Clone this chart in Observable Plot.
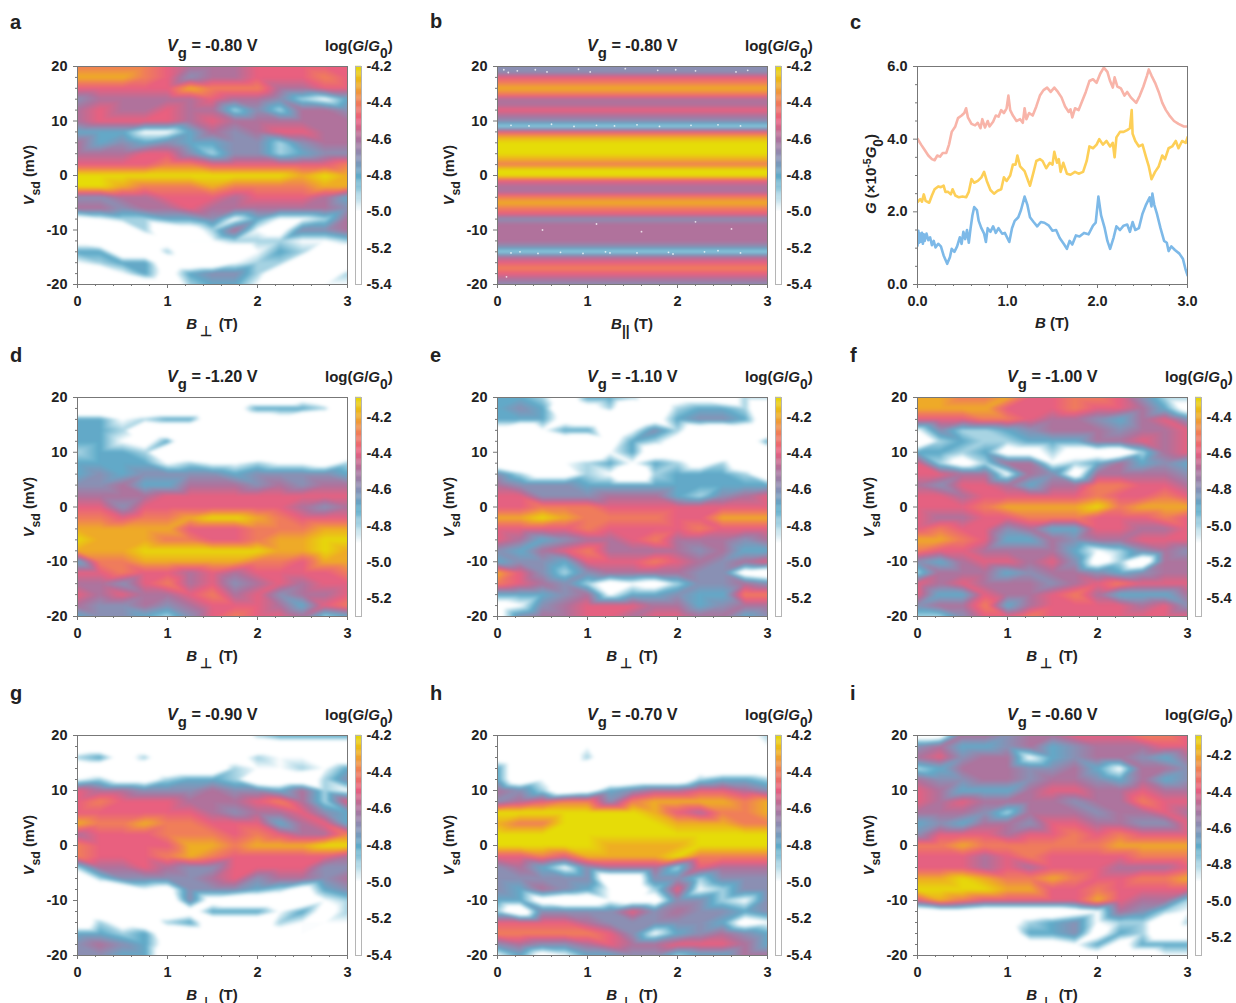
<!DOCTYPE html>
<html><head><meta charset="utf-8">
<script src="https://cdn.jsdelivr.net/npm/d3@7"></script>
<script src="https://cdn.jsdelivr.net/npm/@observablehq/plot@0.6"></script>
<style>
html,body{margin:0;padding:0;background:#fff;}
#fig{position:relative;width:1236px;height:1003px;overflow:hidden;font-family:"Liberation Sans",Arial,sans-serif;color:#222;}
#fig>svg{position:absolute;overflow:visible;background:transparent;}
.t{position:absolute;font-weight:bold;line-height:1;white-space:nowrap;}
.t sub{font-size:.92em;line-height:0;position:relative;top:.12em;vertical-align:baseline;}
.t sup{font-size:.7em;line-height:0;position:relative;top:-.45em;vertical-align:baseline;}
.t sub.d{top:.5em;}
</style></head><body><div id="fig"></div>
<script>
// Grid of the colour maps: B (T) along columns, Vsd (mV) along rows. Cell values are log(G/G0) x 10.
const bCols=[0,.25,.5,.75,1,1.25,1.5,1.75,2,2.25,2.5,2.75,3];
const vRows=[20,18,16,14,12,10,8,6,4,2,0,-2,-4,-6,-8,-10,-12,-14,-16,-18,-20];
const vFine=[20,19,18,17,16,15,14,13,12,11,10,9,8,7,6,5,4,3,2,1,0,-1,-2,-3,-4,-5,-6,-7,-8,-9,-10,-11,-12,-13,-14,-15,-16,-17,-18,-19,-20];

const mapA=[
[-44,-44,-44,-44,-45,-46,-46,-46,-45,-45,-45,-45,-45],
[-43,-43,-43,-44,-45,-47,-46,-46,-45,-45,-45,-44,-45],
[-45,-45,-45,-45,-45,-43,-44,-44,-44,-46,-46,-45,-45],
[-47,-46,-46,-46,-46,-46,-45,-46,-46,-47,-49,-50,-48],
[-46,-45,-46,-46,-45,-46,-46,-49,-47,-49,-46,-46,-47],
[-46,-45,-45,-45,-45,-46,-45,-46,-46,-46,-46,-46,-46],
[-48,-48,-48,-50,-50,-48,-46,-47,-46,-45,-45,-46,-46],
[-46,-48,-47,-48,-47,-48,-48,-47,-47,-49,-47,-46,-46],
[-46,-46,-46,-45,-45,-47,-49,-47,-47,-49,-48,-47,-47],
[-45,-45,-45,-45,-44,-44,-45,-45,-45,-45,-45,-45,-44],
[-42,-42,-42,-42,-42,-42,-42,-42,-42,-42,-43,-42,-43],
[-42,-42,-43,-44,-44,-44,-43,-44,-44,-44,-44,-43,-43],
[-47,-47,-46,-46,-45,-45,-45,-46,-45,-45,-45,-46,-48],
[-46,-46,-47,-46,-46,-45,-46,-46,-46,-46,-46,-46,-47],
[-51,-50,-49,-49,-48,-48,-47,-50,-48,-50,-50,-49,-46],
[-52,-52,-52,-49,-52,-51,-49,-46,-50,-51,-47,-47,-46],
[-51,-52,-52,-52,-51,-50,-50,-49,-49,-49,-50,-50,-49],
[-48,-48,-52,-52,-49,-52,-52,-52,-50,-48,-49,-52,-52],
[-50,-49,-48,-48,-52,-52,-52,-50,-49,-49,-52,-52,-52],
[-52,-52,-50,-48,-51,-48,-47,-47,-49,-52,-51,-52,-49],
[-52,-52,-52,-52,-52,-49,-48,-48,-50,-52,-52,-50,-50]];

const bandB=[-47,-47,-45,-44,-43,-44,-46,-46,-45,-46,-47,-49,-45,-43,-42,-42,-42,-43,-44,-42,-42,-45,-46,-46,-44,-43,-44,-45,-47,-46,-46,-46,-46,-47,-49,-46,-45,-44,-45,-46,-47];
const specksB=[[.07,19.4],[.12,18.9],[.22,19.2],[.42,19.4],[.55,19],[.9,19.5],[1.03,19],[1.42,19.6],[1.78,19.3],[1.98,19.4],[2.2,19.2],[2.65,19],[2.78,19.3],[.15,9.2],[.35,9.1],[.6,9.4],[.85,9],[1.1,9.2],[1.3,9.1],[1.55,9.3],[1.8,9],[2.15,9.2],[2.45,9.3],[2.7,9.1],[.15,-14.2],[.25,-14],[.45,-14.3],[.7,-14.1],[.95,-14.3],[1.2,-14],[1.25,-14.2],[1.55,-14.2],[1.9,-14.1],[1.95,-14.4],[2.3,-14],[2.45,-13.8],[2.7,-14.2],[.1,-18.6],[1.6,-10.3],[2.6,-9.8],[.5,-10],[1.1,-8.9],[2.2,-8.5]];

const mapD=[
[-52,-52,-52,-52,-52,-52,-52,-52,-52,-52,-50,-52,-52],
[-52,-52,-52,-52,-52,-52,-52,-50,-47,-47,-47,-48,-52],
[-47,-47,-49,-48,-47,-47,-51,-52,-51,-50,-52,-52,-52],
[-47,-47,-48,-52,-52,-52,-52,-52,-52,-52,-52,-52,-52],
[-47,-47,-49,-50,-47,-52,-52,-52,-52,-52,-52,-52,-51],
[-48,-47,-47,-48,-52,-52,-52,-52,-52,-52,-52,-52,-51],
[-47,-47,-47,-47,-49,-48,-49,-49,-48,-49,-49,-50,-48],
[-47,-46,-47,-46,-46,-46,-46,-47,-46,-46,-46,-46,-47],
[-46,-46,-45,-47,-47,-45,-45,-45,-46,-45,-46,-45,-45],
[-45,-45,-45,-45,-44,-44,-44,-44,-44,-44,-44,-44,-44],
[-44,-44,-46,-44,-44,-44,-44,-44,-44,-44,-45,-46,-45],
[-43,-43,-44,-43,-43,-42,-41,-41,-42,-43,-44,-44,-44],
[-42,-42,-42,-42,-42,-44,-44,-44,-43,-43,-43,-42,-42],
[-41,-42,-42,-42,-43,-43,-44,-44,-43,-42,-42,-41,-41],
[-42,-42,-42,-41,-41,-41,-41,-41,-41,-42,-42,-41,-42],
[-47,-43,-43,-42,-42,-42,-42,-42,-43,-43,-44,-42,-42],
[-44,-44,-43,-44,-44,-45,-44,-45,-44,-44,-44,-44,-43],
[-45,-45,-46,-44,-43,-45,-44,-46,-45,-44,-45,-44,-44],
[-44,-45,-44,-45,-45,-44,-43,-45,-44,-46,-45,-45,-44],
[-45,-46,-46,-45,-46,-45,-44,-44,-44,-45,-47,-44,-43],
[-47,-46,-46,-47,-48,-46,-44,-43,-44,-44,-45,-48,-47]];

const mapE=[
[-47,-47,-48,-51,-47,-47,-48,-51,-50,-50,-51,-48,-48],
[-47,-46,-47,-52,-50,-48,-52,-51,-48,-47,-47,-48,-52],
[-47,-47,-47,-50,-51,-52,-52,-50,-47,-46,-46,-47,-51],
[-50,-52,-49,-47,-47,-51,-49,-46,-48,-51,-52,-51,-52],
[-52,-52,-52,-51,-52,-50,-47,-48,-50,-52,-52,-51,-47],
[-52,-52,-52,-52,-52,-49,-47,-51,-51,-52,-52,-52,-51],
[-51,-52,-51,-49,-48,-47,-49,-47,-48,-50,-48,-51,-52],
[-46,-48,-50,-50,-48,-49,-52,-48,-47,-47,-47,-48,-51],
[-45,-46,-46,-46,-47,-47,-47,-47,-47,-47,-47,-47,-47],
[-44,-44,-46,-46,-46,-45,-45,-45,-47,-48,-46,-45,-44],
[-44,-44,-43,-43,-43,-44,-44,-44,-44,-44,-44,-44,-44],
[-42,-42,-41,-42,-43,-43,-43,-43,-44,-44,-42,-42,-42],
[-44,-44,-44,-44,-43,-44,-44,-44,-44,-43,-44,-44,-44],
[-44,-45,-47,-46,-45,-45,-44,-43,-45,-45,-45,-46,-45],
[-46,-47,-45,-44,-43,-45,-45,-45,-45,-46,-45,-47,-47],
[-47,-46,-46,-47,-44,-44,-44,-43,-44,-45,-46,-45,-44],
[-42,-44,-46,-48,-46,-45,-45,-45,-45,-46,-46,-50,-51],
[-43,-44,-45,-46,-48,-50,-49,-50,-48,-46,-46,-45,-46],
[-47,-47,-47,-46,-45,-49,-47,-47,-46,-47,-47,-43,-43],
[-50,-49,-46,-45,-44,-44,-44,-45,-45,-47,-46,-45,-45],
[-50,-46,-45,-45,-44,-44,-45,-44,-44,-45,-45,-47,-46]];

const mapF=[
[-44,-44,-45,-45,-44,-46,-46,-45,-45,-46,-48,-50,-50],
[-44,-44,-44,-44,-46,-46,-46,-45,-46,-46,-47,-49,-52],
[-46,-46,-46,-45,-45,-46,-47,-47,-48,-49,-47,-46,-48],
[-51,-48,-50,-50,-49,-48,-47,-47,-47,-48,-47,-47,-46],
[-53,-50,-49,-50,-50,-49,-49,-49,-47,-47,-46,-47,-46],
[-49,-49,-50,-49,-52,-52,-50,-52,-52,-53,-50,-47,-46],
[-46,-50,-52,-50,-47,-47,-51,-50,-49,-47,-49,-48,-49],
[-46,-46,-47,-47,-51,-47,-48,-52,-47,-47,-47,-47,-48],
[-47,-48,-46,-46,-47,-49,-47,-47,-45,-45,-46,-46,-47],
[-46,-46,-47,-46,-46,-46,-46,-46,-45,-46,-46,-45,-46],
[-46,-46,-46,-45,-44,-44,-44,-44,-43,-45,-44,-44,-44],
[-46,-47,-47,-46,-46,-45,-45,-45,-46,-46,-46,-45,-46],
[-46,-45,-46,-46,-48,-47,-49,-49,-46,-46,-47,-47,-46],
[-44,-44,-45,-46,-49,-49,-47,-48,-47,-47,-46,-46,-46],
[-45,-46,-46,-47,-47,-47,-47,-49,-51,-50,-48,-47,-48],
[-48,-49,-47,-46,-46,-47,-46,-48,-52,-50,-53,-47,-47],
[-50,-47,-47,-47,-49,-48,-47,-47,-48,-49,-48,-47,-47],
[-46,-47,-46,-47,-47,-47,-48,-47,-46,-45,-46,-46,-46],
[-46,-49,-49,-46,-47,-47,-46,-45,-47,-49,-49,-49,-47],
[-48,-47,-47,-45,-49,-47,-46,-46,-46,-46,-47,-46,-48],
[-50,-50,-48,-46,-46,-45,-46,-46,-46,-46,-46,-46,-46]];

const mapG=[
[-52,-52,-52,-52,-52,-52,-52,-52,-49,-48,-48,-48,-48],
[-52,-52,-52,-52,-52,-52,-52,-52,-52,-52,-52,-52,-52],
[-49,-48,-51,-49,-52,-52,-52,-51,-49,-50,-50,-52,-52],
[-52,-52,-52,-52,-52,-52,-52,-49,-50,-50,-49,-50,-48],
[-50,-49,-51,-51,-49,-48,-48,-49,-52,-52,-52,-49,-47],
[-45,-46,-46,-47,-47,-47,-46,-47,-47,-48,-46,-49,-50],
[-45,-44,-45,-45,-45,-46,-46,-46,-45,-44,-46,-49,-45],
[-45,-45,-45,-45,-45,-45,-46,-47,-46,-46,-45,-47,-48],
[-43,-44,-44,-43,-44,-44,-45,-45,-45,-48,-46,-45,-48],
[-46,-45,-45,-45,-44,-44,-44,-45,-44,-45,-46,-46,-44],
[-44,-45,-45,-45,-45,-43,-43,-44,-43,-43,-43,-42,-42],
[-44,-45,-45,-45,-44,-43,-44,-45,-45,-45,-45,-45,-46],
[-49,-46,-46,-45,-46,-47,-47,-45,-45,-45,-45,-47,-47],
[-52,-49,-47,-47,-47,-47,-46,-45,-47,-46,-46,-47,-46],
[-52,-52,-52,-50,-51,-47,-47,-47,-48,-49,-51,-48,-47],
[-52,-50,-52,-52,-52,-47,-51,-52,-52,-52,-52,-50,-49],
[-52,-52,-52,-52,-52,-51,-48,-48,-48,-50,-48,-51,-49],
[-52,-49,-51,-52,-49,-48,-52,-52,-52,-49,-50,-50,-50],
[-48,-48,-49,-48,-52,-52,-52,-52,-52,-51,-50,-52,-51],
[-47,-46,-47,-48,-51,-52,-52,-52,-52,-52,-52,-52,-52],
[-47,-47,-48,-48,-52,-51,-51,-52,-52,-52,-51,-50,-50]];

const mapH=[
[-51,-52,-52,-52,-52,-52,-52,-52,-51,-52,-52,-51,-49],
[-52,-52,-52,-52,-50,-52,-52,-52,-52,-51,-52,-50,-50],
[-51,-52,-52,-52,-49,-52,-52,-52,-52,-52,-52,-52,-52],
[-48,-52,-52,-52,-52,-52,-50,-52,-50,-51,-52,-52,-52],
[-48,-52,-50,-52,-52,-52,-52,-52,-52,-49,-48,-48,-49],
[-46,-47,-49,-52,-51,-48,-47,-46,-46,-45,-45,-46,-47],
[-47,-46,-45,-44,-44,-47,-44,-43,-43,-43,-43,-44,-43],
[-42,-42,-42,-42,-42,-42,-42,-43,-45,-46,-44,-44,-43],
[-43,-44,-44,-42,-42,-42,-42,-42,-43,-43,-43,-44,-44],
[-42,-42,-42,-42,-42,-42,-42,-42,-42,-42,-42,-42,-42],
[-42,-42,-42,-42,-42,-43,-43,-43,-43,-42,-42,-42,-42],
[-45,-45,-44,-45,-43,-43,-43,-43,-42,-44,-44,-44,-44],
[-47,-46,-48,-50,-47,-46,-46,-46,-49,-45,-46,-46,-46],
[-47,-47,-47,-47,-47,-52,-52,-47,-47,-49,-47,-47,-47],
[-47,-48,-46,-47,-48,-50,-52,-49,-45,-50,-49,-47,-47],
[-48,-48,-51,-52,-52,-50,-51,-51,-47,-47,-49,-50,-47],
[-49,-52,-47,-47,-47,-47,-45,-47,-46,-47,-47,-48,-47],
[-45,-45,-45,-45,-46,-47,-47,-47,-47,-47,-48,-51,-50],
[-44,-44,-44,-44,-44,-45,-47,-50,-48,-47,-46,-47,-48],
[-47,-46,-47,-47,-46,-45,-46,-46,-45,-45,-45,-46,-48],
[-50,-48,-51,-50,-48,-48,-47,-47,-49,-48,-48,-46,-46]];

const mapI=[
[-50,-50,-45,-45,-46,-45,-45,-44,-44,-44,-43,-43,-44],
[-46,-45,-47,-47,-46,-45,-47,-46,-45,-45,-45,-44,-44],
[-45,-44,-46,-45,-45,-49,-47,-46,-45,-45,-46,-47,-45],
[-48,-47,-45,-45,-45,-46,-46,-45,-47,-49,-45,-45,-46],
[-45,-46,-46,-45,-45,-46,-45,-45,-46,-47,-45,-47,-46],
[-44,-45,-47,-47,-47,-45,-44,-44,-45,-45,-44,-45,-45],
[-44,-45,-44,-45,-45,-45,-45,-46,-45,-45,-43,-44,-44],
[-45,-45,-45,-46,-48,-45,-45,-45,-46,-45,-45,-44,-45],
[-47,-46,-47,-45,-45,-46,-44,-44,-45,-45,-46,-46,-44],
[-46,-44,-44,-44,-45,-44,-44,-43,-44,-43,-44,-44,-44],
[-43,-43,-42,-43,-43,-43,-43,-43,-43,-42,-42,-42,-42],
[-44,-44,-44,-45,-44,-43,-44,-44,-44,-44,-43,-43,-43],
[-44,-44,-44,-45,-44,-45,-44,-44,-44,-45,-45,-45,-44],
[-42,-42,-41,-42,-43,-43,-42,-43,-44,-44,-43,-43,-42],
[-41,-41,-41,-41,-42,-42,-44,-44,-43,-44,-44,-44,-44],
[-44,-42,-43,-44,-44,-44,-44,-44,-42,-44,-45,-45,-48],
[-51,-50,-50,-51,-51,-51,-51,-50,-49,-45,-46,-48,-49],
[-51,-51,-51,-51,-50,-48,-47,-46,-49,-48,-48,-51,-48],
[-49,-50,-51,-50,-51,-47,-47,-46,-50,-47,-48,-51,-51],
[-51,-51,-51,-51,-51,-50,-50,-49,-47,-50,-47,-47,-47],
[-51,-51,-51,-51,-51,-51,-51,-51,-50,-51,-51,-49,-49]];

// Panel c traces, [B, G]
const tracePink=[[0,4.01],[.04,3.85],[.08,3.7],[.12,3.55],[.16,3.45],[.19,3.42],[.22,3.55],[.25,3.52],[.28,3.62],[.32,3.62],[.35,3.85],[.38,4.2],[.42,4.35],[.45,4.58],[.49,4.65],[.52,4.72],[.54,4.85],[.56,4.6],[.6,4.42],[.64,4.38],[.67,4.45],[.7,4.3],[.72,4.55],[.75,4.32],[.78,4.5],[.8,4.35],[.84,4.48],[.87,4.65],[.9,4.62],[.93,4.8],[.96,4.72],[.99,4.85],[1.01,5.2],[1.03,4.8],[1.06,4.65],[1.1,4.5],[1.14,4.55],[1.17,4.45],[1.19,4.85],[1.21,4.55],[1.24,4.72],[1.28,4.65],[1.32,4.9],[1.36,5.2],[1.4,5.35],[1.44,5.42],[1.48,5.3],[1.52,5.42],[1.56,5.3],[1.6,5.15],[1.64,4.9],[1.68,4.75],[1.7,4.82],[1.72,4.6],[1.75,4.85],[1.79,4.8],[1.83,5.05],[1.87,5.3],[1.91,5.6],[1.95,5.65],[1.99,5.55],[2.03,5.8],[2.07,5.97],[2.11,5.85],[2.14,5.6],[2.17,5.42],[2.19,5.7],[2.22,5.45],[2.26,5.4],[2.3,5.2],[2.33,5.3],[2.37,5.15],[2.43,5.0],[2.47,5.2],[2.51,5.45],[2.55,5.75],[2.57,5.92],[2.6,5.75],[2.64,5.55],[2.68,5.3],[2.72,5.0],[2.76,4.8],[2.8,4.65],[2.85,4.5],[2.9,4.42],[2.96,4.35],[3,4.35]];
const traceYellow=[[0,2.27],[.03,2.35],[.05,2.28],[.07,2.48],[.09,2.3],[.13,2.25],[.16,2.45],[.19,2.62],[.23,2.7],[.26,2.68],[.29,2.72],[.31,2.55],[.34,2.55],[.37,2.48],[.39,2.62],[.42,2.45],[.46,2.4],[.5,2.42],[.54,2.4],[.57,2.55],[.6,2.9],[.63,2.8],[.67,2.85],[.71,2.95],[.74,3.1],[.77,2.85],[.81,2.6],[.85,2.5],[.89,2.58],[.93,2.62],[.96,2.95],[.99,2.85],[1.03,3.0],[1.06,3.3],[1.09,3.3],[1.11,3.55],[1.14,3.25],[1.19,3.12],[1.23,2.85],[1.25,2.72],[1.29,3.1],[1.32,3.4],[1.36,3.45],[1.39,3.4],[1.43,3.2],[1.47,3.35],[1.5,3.3],[1.52,3.65],[1.55,3.35],[1.57,3.45],[1.59,3.1],[1.62,3.35],[1.66,3.05],[1.7,3.02],[1.75,3.1],[1.79,3.05],[1.84,3.1],[1.88,3.4],[1.91,3.8],[1.95,3.75],[1.99,3.85],[2.02,4.0],[2.06,3.85],[2.1,3.95],[2.14,3.8],[2.17,3.9],[2.19,3.5],[2.21,4.05],[2.25,4.2],[2.29,4.2],[2.33,4.25],[2.36,4.3],[2.38,4.8],[2.39,4.15],[2.42,3.95],[2.46,3.8],[2.5,3.85],[2.54,3.5],[2.57,3.25],[2.6,2.9],[2.64,3.1],[2.68,3.25],[2.72,3.55],[2.75,3.45],[2.79,3.75],[2.83,3.8],[2.87,3.95],[2.9,3.75],[2.94,3.95],[2.98,3.9],[3,4.05]];
const traceBlue=[[0,1.07],[.01,1.48],[.02,1.15],[.03,1.4],[.04,1.18],[.05,1.42],[.06,1.12],[.07,1.38],[.08,1.2],[.1,1.4],[.12,1.22],[.14,1.3],[.16,1.08],[.18,1.2],[.2,1.02],[.23,1.12],[.26,1.05],[.29,.8],[.33,.57],[.36,.75],[.38,.98],[.41,.9],[.44,1.05],[.47,1.3],[.49,1.12],[.51,1.45],[.53,1.25],[.55,1.5],[.57,1.15],[.59,1.55],[.61,1.9],[.63,2.13],[.66,2.05],[.68,1.75],[.71,1.55],[.74,1.4],[.76,1.17],[.78,1.55],[.81,1.45],[.84,1.6],[.87,1.42],[.9,1.55],[.94,1.4],[.97,1.42],[1.02,1.17],[1.05,1.55],[1.08,1.75],[1.12,1.85],[1.15,2.05],[1.19,2.42],[1.22,2.2],[1.25,1.85],[1.29,1.72],[1.33,1.6],[1.37,1.72],[1.41,1.7],[1.46,1.62],[1.5,1.48],[1.54,1.5],[1.58,1.28],[1.63,1.1],[1.66,.98],[1.69,1.2],[1.72,1.1],[1.76,1.35],[1.8,1.32],[1.85,1.42],[1.9,1.38],[1.95,1.62],[1.98,1.7],[2.01,2.42],[2.04,1.9],[2.08,1.55],[2.11,1.2],[2.14,.98],[2.18,1.3],[2.21,1.6],[2.25,1.5],[2.29,1.62],[2.33,1.65],[2.36,1.45],[2.39,1.72],[2.42,1.5],[2.46,1.55],[2.5,1.95],[2.54,2.2],[2.58,2.4],[2.6,2.15],[2.61,2.5],[2.63,2.2],[2.66,1.95],[2.7,1.55],[2.74,1.2],[2.77,1.15],[2.79,.92],[2.82,1.05],[2.86,.95],[2.91,.85],[2.95,.7],[2.98,.4],[3,.25]];

const cbColors=[[0,"#ffffff"],[.33,"#ffffff"],[.40,"#b5dbe8"],[.49,"#5fabc9"],[.58,"#8a90b4"],[.667,"#b0729c"],[.75,"#e9607f"],[.835,"#f07f58"],[.92,"#eeb021"],[1,"#e6dc08"]];

const panels=[
 {id:"a",vg:"-0.80",map:mapA,lo:-5.4,hi:-4.2,ticks:[-4.2,-4.4,-4.6,-4.8,-5.0,-5.2,-5.4],col:0,row:0,xl:"perp",lb:29},
 {id:"b",vg:"-0.80",band:bandB,specks:specksB,lo:-5.4,hi:-4.2,ticks:[-4.2,-4.4,-4.6,-4.8,-5.0,-5.2,-5.4],col:1,row:0,xl:"par",lb:28},
 {id:"d",vg:"-1.20",map:mapD,lo:-5.3,hi:-4.09,ticks:[-4.2,-4.4,-4.6,-4.8,-5.0,-5.2],col:0,row:1,xl:"perp",lb:362},
 {id:"e",vg:"-1.10",map:mapE,lo:-5.3,hi:-4.09,ticks:[-4.2,-4.4,-4.6,-4.8,-5.0,-5.2],col:1,row:1,xl:"perp",lb:362},
 {id:"f",vg:"-1.00",map:mapF,lo:-5.5,hi:-4.29,ticks:[-4.4,-4.6,-4.8,-5.0,-5.2,-5.4],col:2,row:1,xl:"perp",lb:362},
 {id:"g",vg:"-0.90",map:mapG,lo:-5.4,hi:-4.2,ticks:[-4.2,-4.4,-4.6,-4.8,-5.0,-5.2,-5.4],col:0,row:2,xl:"perp",lb:700},
 {id:"h",vg:"-0.70",map:mapH,lo:-5.4,hi:-4.2,ticks:[-4.2,-4.4,-4.6,-4.8,-5.0,-5.2,-5.4],col:1,row:2,xl:"perp",lb:700},
 {id:"i",vg:"-0.60",map:mapI,lo:-5.3,hi:-4.09,ticks:[-4.2,-4.4,-4.6,-4.8,-5.0,-5.2],col:2,row:2,xl:"perp",lb:700}
];

const colLeft=[77,497,917], rowTop=[66,397,735], rowH=[218,219,220], plotW=270;
const ink="#222", frameInk="#777";
const fig=document.getElementById("fig");
const baseStyle={background:"transparent",fontFamily:'"Liberation Sans",Arial,sans-serif',fontSize:"14.5px",fontWeight:"bold",color:ink};

function put(svg,x,y){svg.style.left=x+"px";svg.style.top=y+"px";fig.appendChild(svg);}
function text(html,x,base,size,opt={}){
  const d=document.createElement("div");d.className="t";d.innerHTML=html;
  d.style.fontSize=size+"px";d.style.left=x+"px";
  if(opt.rot){d.style.top=base+"px";d.style.transformOrigin="0 0";d.style.transform="rotate(-90deg) translate(-50%,-0.8465em)";}
  else{d.style.top=(base-.8465*size)+"px";if(opt.center)d.style.transform="translate(-50%,0)";}
  fig.appendChild(d);
}
function axes(xTicks,xMinor,yTicks,yMinor,xFmt,yFmt){
  return [
    Plot.axisX({ticks:xMinor,tickSize:2,tickFormat:()=>"",stroke:frameInk}),
    Plot.axisY({ticks:yMinor,tickSize:2,tickFormat:()=>"",stroke:frameInk}),
    Plot.axisX({ticks:xTicks,tickSize:4,tickPadding:7,fontSize:14.5,tickFormat:xFmt,stroke:frameInk,label:null,fill:ink}),
    Plot.axisY({ticks:yTicks,tickSize:4,tickPadding:6,fontSize:14.5,tickFormat:yFmt,stroke:frameInk,label:null,fill:ink})
  ];
}
const xT=[0,1,2,3], xM=[.2,.4,.6,.8,1.2,1.4,1.6,1.8,2.2,2.4,2.6,2.8];
const yT=[-20,-10,0,10,20], yM=[-18,-16,-14,-12,-8,-6,-4,-2,2,4,6,8,12,14,16,18];

function colorOpt(p){
  return {type:"linear",clamp:true,domain:cbColors.map(c=>p.lo+c[0]*(p.hi-p.lo)),range:cbColors.map(c=>c[1])};
}
function pointsOf(p){
  const pts=[];
  if(p.map) p.map.forEach((r,i)=>r.forEach((v,j)=>pts.push({b:bCols[j],s:vRows[i],v:v/10})));
  else p.band.forEach((v,i)=>[0,1.5,3].forEach(b=>pts.push({b,s:vFine[i],v:v/10})));
  return pts;
}
const mL=45,mR=10,mT=8,mB=26;

for(const p of panels){
  const L=colLeft[p.col],T=rowTop[p.row],H=rowH[p.row];
  put(Plot.plot({width:plotW+mL+mR,height:H+mT+mB,marginLeft:mL,marginRight:mR,marginTop:mT,marginBottom:mB,
    style:baseStyle,x:{domain:[0,3],label:null},y:{domain:[-20,20],label:null},color:colorOpt(p),
    marks:[
      Plot.raster(pointsOf(p),{x:"b",y:"s",fill:"v",interpolate:"barycentric",blur:1}),
      p.specks?Plot.dot(p.specks,{x:d=>d[0],y:d=>d[1],r:.9,fill:"#fff",fillOpacity:.75,stroke:"none"}):null,
      ...axes(xT,xM,yT,yM,d=>String(d),d=>String(d)),
      Plot.frame({stroke:frameInk})
    ]}),L-mL,T-mT);
  // colour bar
  const step=(p.hi-p.lo)/200;
  const bar=d3.range(200).map(i=>p.lo+i*step);
  put(Plot.plot({width:6+2+42,height:H+mT+mB,marginLeft:1,marginRight:43,marginTop:mT,marginBottom:mB,
    style:baseStyle,x:{domain:[0,1],axis:null},y:{domain:[p.lo,p.hi],label:null,axis:null},color:colorOpt(p),
    marks:[
      Plot.rect(bar,{x1:0,x2:1,y1:d=>d,y2:d=>d+step*1.2,fill:d=>d}),
      Plot.axisY({anchor:"right",ticks:p.ticks,tickSize:0,tickPadding:5,fontSize:14.5,tickFormat:d=>d.toFixed(1),label:null,fill:ink}),
      Plot.frame({stroke:"#b5b5b5"})
    ]}),L+278-1,T-mT);
  const base=T-15.5;
  text(`<i>V</i><sub class="d">g</sub> = ${p.vg} V`,L+90,base,16.2);
  text(`log(<i>G</i>/<i>G</i><sub class="d">0</sub>)`,L+248,base,15);
  text(`<i>V</i><sub class="d" style="font-size:.85em">sd</sub> (mV)`,34+(L-77),T+H/2,14.5,{rot:true});
  const xlab=p.xl==="perp"?`<i>B</i><sub class="d" style="font-size:.9em">&thinsp;⊥&thinsp;</sub> (T)`:`<i>B</i><sub class="d">||</sub> (T)`;
  text(xlab,L+135,T+H+45,15,{center:true});
  text(p.id,L-67,p.lb,20);
}

// Panel c
{
  const L=colLeft[2],T=rowTop[0],H=rowH[0];
  const lineC=(tr,c)=>Plot.line(tr,{x:d=>d[0],y:d=>d[1],stroke:c,strokeWidth:2.6,strokeLinejoin:"round",clip:true});
  const f1=d=>d.toFixed(1);
  put(Plot.plot({width:plotW+mL+mR,height:H+mT+mB,marginLeft:mL,marginRight:mR,marginTop:mT,marginBottom:mB,
    style:baseStyle,x:{domain:[0,3],label:null},y:{domain:[0,6],label:null},
    marks:[
      lineC(tracePink,"#f8b4a9"),
      lineC(traceYellow,"#fdcf57"),
      lineC(traceBlue,"#7db9e8"),
      ...axes([0,1,2,3],xM,[0,2,4,6],[.5,1,1.5,2.5,3,3.5,4.5,5,5.5],f1,f1),
      Plot.frame({stroke:frameInk})
    ]}),L-mL,T-mT);
  text(`<i>G</i> (×10<sup>-5</sup><i>G</i><sub class="d">0</sub>)`,876,174,15,{rot:true});
  text(`<i>B</i> (T)`,L+135,328,15,{center:true});
  text("c",L-67,29,20);
}
</script></body></html>
